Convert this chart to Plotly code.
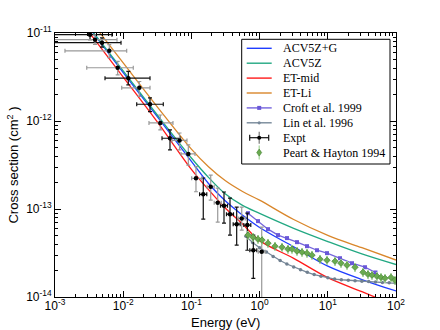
import plotly.graph_objects as go
import numpy as np

# theory curves (energy in eV, cross section in cm^2)
theory_energy = [0.001, 0.00316, 0.01, 0.0316, 0.1, 0.178, 0.316, 0.562, 1.0, 3.16, 10.0, 31.6, 100.0]
acv5z_g = [3.63e-11, 1.15e-11, 3.55e-12, 1.12e-12, 3.47e-13, 1.95e-13, 1.23e-13, 8.51e-14, 6.17e-14, 3.72e-14, 2.24e-14, 1.58e-14, 1.17e-14]
acv5z = [3.72e-11, 1.17e-11, 3.72e-12, 1.17e-12, 3.80e-13, 2.29e-13, 1.48e-13, 1.10e-13, 8.91e-14, 6.03e-14, 4.27e-14, 3.09e-14, 2.34e-14]
et_mid = [3.24e-11, 1.02e-11, 3.16e-12, 9.77e-13, 2.82e-13, 1.66e-13, 1.02e-13, 6.76e-14, 4.37e-14, 2.75e-14, 1.66e-14, 1.15e-14, 7.94e-15]
et_li = [4.57e-11, 1.45e-11, 4.57e-12, 1.45e-12, 4.79e-13, 3.02e-13, 2.09e-13, 1.58e-13, 1.26e-13, 7.59e-14, 5.01e-14, 3.63e-14, 2.63e-14]

# Croft et al. 1999
croft_energy = [0.676, 0.948, 1.327, 1.862, 2.523, 3.532, 4.955, 6.950, 9.727, 15.10, 22.65, 35.08, 50.0]
croft_sigma = [8.97e-14, 7.28e-14, 5.90e-14, 5.05e-14, 4.67e-14, 4.20e-14, 3.78e-14, 3.40e-14, 3.15e-14, 2.76e-14, 2.42e-14, 2.18e-14, 1.90e-14]

# Lin et al. 1996
lin_energy = [0.63, 0.79, 1.0, 1.26, 1.58, 2.0, 2.51, 3.16, 3.98, 5.01, 6.31, 7.94,
              10.0, 12.6, 15.8, 20.0, 25.1, 31.6, 39.8, 50.1, 63.1, 79.4, 100.0]
lin_sigma = [4.90e-14, 4.17e-14, 3.63e-14, 3.24e-14, 2.88e-14, 2.60e-14, 2.37e-14, 2.19e-14, 2.04e-14, 1.91e-14, 1.80e-14, 1.72e-14,
             1.66e-14, 1.60e-14, 1.57e-14, 1.55e-14, 1.53e-14, 1.51e-14, 1.50e-14, 1.48e-14, 1.46e-14, 1.45e-14, 1.43e-14]

# Peart & Hayton 1994
peart_energy = [0.676, 0.800, 0.948, 1.084, 1.327, 1.683, 2.128, 2.606, 2.985, 3.532, 4.188, 4.955, 5.861, 7.691,
                9.727, 12.76, 15.63, 19.14, 25.06, 32.81, 38.82, 44.46, 52.60, 60.26, 69.02, 84.53, 96.61]
peart_sigma = [5.05e-14, 4.79e-14, 4.54e-14, 4.43e-14, 4.09e-14, 3.78e-14, 3.68e-14, 3.50e-14, 3.50e-14, 3.32e-14, 3.23e-14, 3.15e-14, 2.99e-14, 2.69e-14,
               2.62e-14, 2.55e-14, 2.42e-14, 2.30e-14, 2.18e-14, 1.91e-14, 1.81e-14, 1.77e-14, 1.72e-14, 1.67e-14, 1.63e-14, 1.67e-14, 1.55e-14]
peart_rel_err = 0.10

# Expt (merged beam data)
expt_energy = [0.00326, 0.00386, 0.00489, 0.00625, 0.00830, 0.01189, 0.01722, 0.02472, 0.03499, 0.04853, 0.06699, 0.09016,
               0.1167, 0.1493, 0.1919, 0.2432, 0.3006, 0.3681, 0.4613, 0.5470, 0.6607, 0.8091, 1.074]
expt_sigma = [9.57e-12, 8.39e-12, 7.76e-12, 6.28e-12, 4.03e-12, 3.07e-12, 2.38e-12, 1.55e-12, 9.51e-13, 6.37e-13, 6.01e-13, 4.22e-13,
              2.23e-13, 1.47e-13, 1.79e-13, 1.18e-13, 1.09e-13, 8.74e-14, 6.73e-14, 7.82e-14, 6.56e-14, 3.40e-14, 3.26e-14]
expt_e_lo = [0.00043, 0.00051, 0.00060, 0.00140, 0.00292, 0.00541, 0.00951, 0.01578, 0.02388, 0.03707, 0.05200, 0.07047,
             0.1009, 0.132, 0.170, 0.216, 0.267, 0.327, 0.410, 0.486, 0.587, 0.719, 0.955]
expt_e_hi = [0.00685, 0.00811, 0.00929, 0.01125, 0.01406, 0.02472, 0.02472, 0.03873, 0.05370, 0.06808, 0.08610, 0.1130,
             0.1416, 0.168, 0.216, 0.274, 0.338, 0.414, 0.519, 0.615, 0.743, 0.910, 1.208]
expt_s_lo = [8.4e-12, 7.4e-12, 6.9e-12, 5.24e-12, 3.35e-12, 2.58e-12, 1.90e-12, 1.28e-12, 7.93e-13, 4.69e-13, 4.69e-13, 3.16e-13,
             1.57e-13, 7.67e-14, 1.26e-13, 7.10e-14, 6.91e-14, 5.05e-14, 3.88e-14, 5.75e-14, 3.40e-14, 1.63e-14, 2.6e-15]
expt_s_hi = [1.09e-11, 9.5e-12, 8.8e-12, 7.36e-12, 4.75e-12, 3.66e-12, 2.81e-12, 1.83e-12, 1.17e-12, 7.93e-13, 7.31e-13, 5.35e-13,
             3.03e-13, 2.25e-13, 2.43e-13, 1.73e-13, 1.56e-13, 1.33e-13, 1.05e-13, 1.05e-13, 8.97e-14, 5.05e-14, 6.22e-14]
expt_bar_color = ['k', 'g', 'k', 'g', 'g', 'k', 'g', 'k', 'g', 'k', 'g', 'g',
                  'g', 'k', 'g', 'g', 'k', 'k', 'k', 'g', 'k', 'k', 'g']

decade_ticks = [1e-3, 1e-2, 1e-1, 1e0, 1e1, 1e2]
decade_labels = ['10<sup>-3</sup>', '10<sup>-2</sup>', '10<sup>-1</sup>', '10<sup>0</sup>', '10<sup>1</sup>', '10<sup>2</sup>']
sigma_ticks = [1e-14, 1e-13, 1e-12, 1e-11]
sigma_labels = ['10<sup>-14</sup>', '10<sup>-13</sup>', '10<sup>-12</sup>', '10<sup>-11</sup>']

SANS = "Liberation Sans, Arial, sans-serif"
SERIF = "Liberation Serif, Times New Roman, serif"

BLUE, GREEN, RED, ORANGE = '#1f3dff', '#22a882', '#ff1a1a', '#d9862a'
PURPLE, SLATE, PEART, PEART_ERR = '#7464dc', '#778899', '#6aaa50', '#a3d497'

# plot area in pixels (used for the hand drawn legend)
X0, W, Y0, H = 55, 341, 33, 264


def to_paper(px, py):
    return (px - X0) / W, 1 - (py - Y0) / H


def expt_traces():
    """Split the experimental points into black and grey error bar groups."""
    e = np.array(expt_energy)
    s = np.array(expt_sigma)
    elo, ehi = np.array(expt_e_lo), np.array(expt_e_hi)
    slo, shi = np.array(expt_s_lo), np.array(expt_s_hi)
    flags = np.array(expt_bar_color)
    traces = []
    for flag, col in [('k', '#111111'), ('g', '#999999')]:
        m = flags == flag
        traces.append(go.Scatter(
            x=e[m], y=s[m], mode='markers', name='Expt', showlegend=False,
            marker=dict(color='black', size=4.5, symbol='circle'),
            error_x=dict(type='data', symmetric=False, array=ehi[m] - e[m], arrayminus=e[m] - elo[m],
                         color=col, thickness=1.2, width=2),
            error_y=dict(type='data', symmetric=False, array=shi[m] - s[m], arrayminus=s[m] - slo[m],
                         color=col, thickness=1.2, width=2),
        ))
    return traces


def add_legend(fig):
    """Matplotlib style legend box drawn with shapes and annotations."""
    bx0, by0 = to_paper(241.7, 39.3)
    bx1, by1 = to_paper(390, 164)
    fig.add_shape(type='rect', xref='paper', yref='paper', x0=bx0, x1=bx1, y0=by1, y1=by0,
                  line=dict(color='black', width=1), fillcolor='white', layer='above')

    entries = [
        ('ACV5Z+G', BLUE, None),
        ('ACV5Z', GREEN, None),
        ('ET-mid', RED, None),
        ('ET-Li', ORANGE, None),
        ('Croft et al. 1999', PURPLE, 'square'),
        ('Lin et al. 1996', SLATE, 'circle'),
        ('Expt', None, 'expt'),
        ('Peart & Hayton 1994', None, 'peart'),
    ]
    lx0, lx1, tx = 246.7, 271.7, 281
    for i, (name, col, sym) in enumerate(entries):
        py = 48.3 + i * 14.9
        cx = (lx0 + lx1) / 2
        if col is not None:
            a, y = to_paper(lx0, py)
            b, _ = to_paper(lx1, py)
            fig.add_shape(type='line', xref='paper', yref='paper', x0=a, x1=b, y0=y, y1=y,
                          line=dict(color=col, width=1.4), layer='above')
        if sym == 'square':
            a, y0 = to_paper(cx - 2, py - 2)
            b, y1 = to_paper(cx + 2, py + 2)
            fig.add_shape(type='rect', xref='paper', yref='paper', x0=a, x1=b, y0=y1, y1=y0,
                          line=dict(width=0), fillcolor='#6a58d8', layer='above')
        elif sym == 'circle':
            a, y0 = to_paper(cx - 1.6, py - 1.6)
            b, y1 = to_paper(cx + 1.6, py + 1.6)
            fig.add_shape(type='circle', xref='paper', yref='paper', x0=a, x1=b, y0=y1, y1=y0,
                          line=dict(width=0), fillcolor=SLATE, layer='above')
        elif sym == 'expt':
            for (ax, ay, bx_, by_, c) in [(lx0 + 3, py, lx1 - 3, py, '#111111'),
                                         (lx0 + 3, py - 3, lx0 + 3, py + 3, '#111111'),
                                         (lx1 - 3, py - 3, lx1 - 3, py + 3, '#111111'),
                                         (cx, py - 6, cx, py + 6, '#777777')]:
                a, y0 = to_paper(ax, ay)
                b, y1 = to_paper(bx_, by_)
                fig.add_shape(type='line', xref='paper', yref='paper', x0=a, x1=b, y0=y0, y1=y1,
                              line=dict(color=c, width=1.2), layer='above')
            a, y0 = to_paper(cx - 2, py - 2)
            b, y1 = to_paper(cx + 2, py + 2)
            fig.add_shape(type='circle', xref='paper', yref='paper', x0=a, x1=b, y0=y1, y1=y0,
                          line=dict(width=0), fillcolor='black', layer='above')
        elif sym == 'peart':
            a, y0 = to_paper(cx, py - 7)
            _, y1 = to_paper(cx, py + 7)
            fig.add_shape(type='line', xref='paper', yref='paper', x0=a, x1=a, y0=y0, y1=y1,
                          line=dict(color=PEART_ERR, width=1.2), layer='above')
            pts = [to_paper(cx, py - 3.5), to_paper(cx + 2.5, py), to_paper(cx, py + 3.5), to_paper(cx - 2.5, py)]
            path = 'M ' + ' L '.join(f'{x:.5f},{y:.5f}' for x, y in pts) + ' Z'
            fig.add_shape(type='path', xref='paper', yref='paper', path=path,
                          line=dict(color='#3f7d2e', width=0.6), fillcolor=PEART, layer='above')
        x, y = to_paper(tx, py)
        fig.add_annotation(xref='paper', yref='paper', x=x, y=y, text=name, showarrow=False,
                           xanchor='left', yanchor='middle',
                           font=dict(family=SERIF, size=12, color='black'))


def create_figure():
    fig = go.Figure()

    lines = [
        ('ACV5Z+G', acv5z_g, BLUE),
        ('ACV5Z', acv5z, GREEN),
        ('ET-mid', et_mid, RED),
        ('ET-Li', et_li, ORANGE),
    ]
    for name, ys, col in lines:
        fig.add_trace(go.Scatter(x=theory_energy, y=ys, mode='lines', name=name,
                                 line=dict(color=col, width=1.3, shape='spline')))

    fig.add_trace(go.Scatter(x=croft_energy, y=croft_sigma, mode='lines+markers', name='Croft et al. 1999',
                             line=dict(color=PURPLE, width=1.3),
                             marker=dict(symbol='square', size=4, color='#6a58d8')))
    fig.add_trace(go.Scatter(x=lin_energy, y=lin_sigma, mode='lines+markers', name='Lin et al. 1996',
                             line=dict(color=SLATE, width=1.3),
                             marker=dict(symbol='circle', size=3.5, color='#708090')))

    for tr in expt_traces():
        fig.add_trace(tr)

    ps = np.array(peart_sigma)
    fig.add_trace(go.Scatter(x=peart_energy, y=peart_sigma, mode='markers', name='Peart & Hayton 1994',
                             marker=dict(symbol='diamond', size=5, color=PEART,
                                         line=dict(color='#3f7d2e', width=0.6)),
                             error_y=dict(type='data', array=ps * peart_rel_err,
                                          color=PEART_ERR, thickness=1, width=1)))

    axis_common = dict(
        type='log', showline=True, linecolor='black', linewidth=1, mirror='allticks',
        ticks='inside', ticklen=6, tickcolor='black', tickwidth=1,
        showgrid=False, zeroline=False,
        tickfont=dict(family=SANS, size=12, color='black'),
        minor=dict(ticks='inside', ticklen=3, tickcolor='black', dtick='D1', showgrid=False),
        automargin=False,
    )
    fig.update_xaxes(**axis_common, range=[-3, 2], tickvals=decade_ticks, ticktext=decade_labels,
                     ticklabelstandoff=-2)
    fig.update_yaxes(**axis_common, range=[-14, -11], tickvals=sigma_ticks, ticktext=sigma_labels,
                     title=dict(text='Cross section (cm<sup>2</sup> )', font=dict(family=SANS, size=13, color='black'),
                                standoff=4))

    # x axis title placed just under the tick labels, as in the original figure
    tx, ty = to_paper(225.5, 322)
    fig.add_annotation(xref='paper', yref='paper', x=tx, y=ty, text='Energy (eV)', showarrow=False,
                       xanchor='center', yanchor='middle', font=dict(family=SANS, size=13, color='black'))

    fig.update_layout(
        width=440, height=330,
        margin=dict(l=X0, r=440 - X0 - W, t=Y0, b=330 - Y0 - H),
        paper_bgcolor='white', plot_bgcolor='white',
        showlegend=False, hovermode=False,
    )
    add_legend(fig)
    return fig


fig = create_figure()
# drop the browser's default 8px body margin so the figure fills the window
fig.write_html("out.html", config={'displayModeBar': False},
               post_script="document.body.style.margin='0';document.body.style.overflow='hidden';")
